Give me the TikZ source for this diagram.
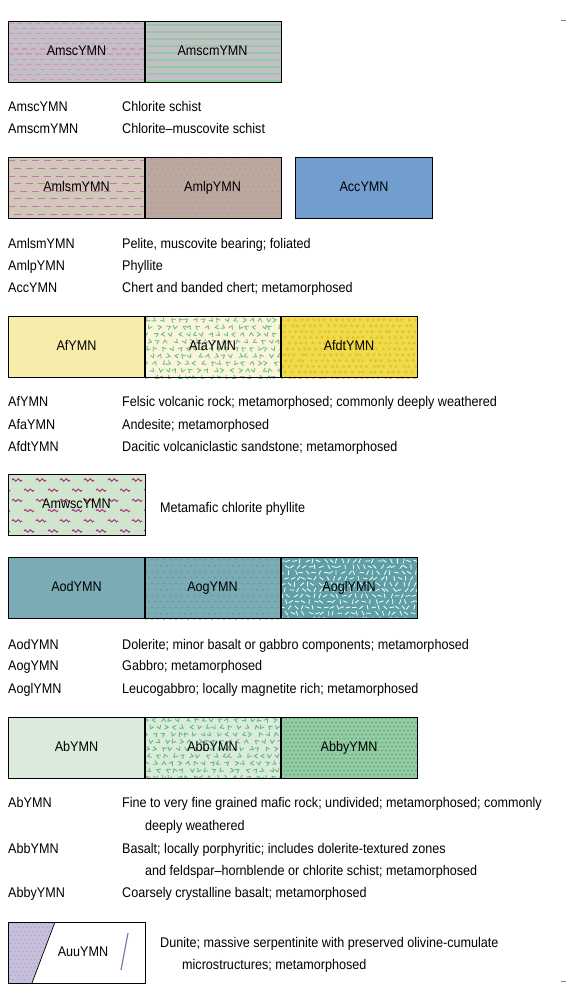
\documentclass[tikz,border=0pt]{standalone}
\usepackage{fontspec}
\setmainfont[FakeStretch=0.9]{Liberation Sans}

\definecolor{schgrey}{HTML}{C2BFC8}
\definecolor{schpink}{HTML}{D596B2}
\definecolor{schgreen}{HTML}{93CBA0}
\definecolor{pelbg}{HTML}{D3C7B9}
\definecolor{pelmag}{HTML}{C874B0}
\definecolor{phybg}{HTML}{BAAA9D}
\definecolor{chert}{HTML}{729ECF}
\definecolor{felsic}{HTML}{F7ECAA}
\definecolor{andbg}{HTML}{FAF4DA}
\definecolor{andgreen}{HTML}{6DC08C}
\definecolor{dacbg}{HTML}{F1DB4D}
\definecolor{dactri}{HTML}{E2C427}
\definecolor{mwsbg}{HTML}{CFE5CD}
\definecolor{mwsmag}{HTML}{A63388}
\definecolor{dolerite}{HTML}{7BABB5}
\definecolor{gabdot}{HTML}{3F8C93}
\definecolor{leuco}{HTML}{5FA0A6}
\definecolor{basalt}{HTML}{DAEBDC}
\definecolor{bagreen}{HTML}{62BA7E}
\definecolor{cryst}{HTML}{93CCA3}
\definecolor{crydot}{HTML}{3F9A68}
\definecolor{dunite}{HTML}{C6BEDA}
\definecolor{dundot}{HTML}{A99CC6}
\definecolor{slashc}{HTML}{8A70B0}

\tikzset{
  unitbox/.style={draw,line width=0.7pt,minimum width=137pt,minimum height=61pt,
    inner sep=0pt,text height=7pt,text depth=0pt},
  code/.style={anchor=base west,inner sep=0pt}
}

% pattern fills, drawn from the top left corner of a box
\newcommand{\fillDash}[7]{% x, y, ground, ink, period, dash, last row
  \begin{scope}[shift={(#1,#2)}]
  \clip (0,0) rectangle (137,61);
  \fill[#3] (0,0) rectangle (137,61);
  \foreach \r in {0,...,#7}
    \foreach \c in {-1,...,16}
      \draw[#4,line width=1.1pt] ({\c*#5+mod(\r,2)*#5/2},{(\r+0.5)*61/(#7+1)}) -- ++(#6,0);
  \end{scope}}
\newcommand{\fillLines}[4]{% x, y, ground, ink
  \begin{scope}[shift={(#1,#2)}]
  \clip (0,0) rectangle (137,61);
  \fill[#3] (0,0) rectangle (137,61);
  \foreach \r in {0,...,8}
    \draw[#4,line width=1.2pt] (0,{4+\r*7}) -- ++(137,0);
  \end{scope}}
\newcommand{\fillDots}[6]{% x, y, ground, ink, spacing, radius
  \begin{scope}[shift={(#1,#2)}]
  \clip (0,0) rectangle (137,61);
  \fill[#3] (0,0) rectangle (137,61);
  \foreach \r in {0,...,16}
    \foreach \c in {0,...,35}
      \fill[#4] ({1+\c*#5+mod(\r,2)*#5/2},{1.5+\r*#5}) circle (#6);
  \end{scope}}
\newcommand{\fillVee}[5]{% x, y, ground, ink, seed
  \begin{scope}[shift={(#1,#2)}]
  \clip (0,0) rectangle (137,61);
  \fill[#3] (0,0) rectangle (137,61);
  \pgfmathsetseed{#5}
  \foreach \r in {0,...,8}
    \foreach \c in {0,...,17}{
      \pgfmathsetmacro\ang{360*rnd}
      \pgfmathsetmacro\dx{2*rand}
      \draw[#4,line width=0.9pt,shift={({2+\c*8+mod(\r,2)*4+\dx},{3+\r*7.2})},rotate=\ang]
        (-2.1,-1.7) -- (0,1.7) -- (2.1,-1.7);
    }
  \end{scope}}
\newcommand{\fillTri}[2]{% x, y
  \begin{scope}[shift={(#1,#2)}]
  \clip (0,0) rectangle (137,61);
  \fill[dacbg] (0,0) rectangle (137,61);
  \pgfmathsetseed{23}
  \foreach \r in {0,...,10}
    \foreach \c in {0,...,23}{
      \pgfmathsetmacro\ang{360*rnd}
      \pgfmathsetmacro\dx{1.5*rand}
      \fill[dactri,shift={({2+\c*6+mod(\r,2)*3+\dx},{3+\r*5.8})},rotate=\ang]
        (0,-2) -- (1.8,1.2) -- (-1.8,1.2) -- cycle;
    }
  \end{scope}}
\newcommand{\fillTick}[2]{% x, y
  \begin{scope}[shift={(#1,#2)}]
  \clip (0,0) rectangle (137,61);
  \fill[leuco] (0,0) rectangle (137,61);
  \pgfmathsetseed{5}
  \foreach \r in {0,...,10}
    \foreach \c in {0,...,23}{
      \pgfmathsetmacro\ang{360*rnd}
      \pgfmathsetmacro\dx{1.5*rand}
      \draw[white,line width=0.8pt,shift={({2+\c*6+mod(\r,2)*3+\dx},{3+\r*5.8})},rotate=\ang]
        (-2.3,0) -- (2.3,0);
    }
  \end{scope}}
\newcommand{\fillWave}[2]{% x, y
  \begin{scope}[shift={(#1,#2)}]
  \clip (0,0) rectangle (137,61);
  \fill[mwsbg] (0,0) rectangle (137,61);
  \foreach \r in {0,...,5}
    \foreach \c in {-1,...,5}
      \draw[mwsmag,line width=1pt,shift={({4+\c*24+mod(\r,2)*12},{5+\r*10.2})}]
        (0,0) sin (1.25,-1.1) cos (2.5,0) sin (3.75,1.1) cos (5,0)
        sin (6.25,-1.1) cos (7.5,0) sin (8.75,1.1) cos (10,0);
  \end{scope}}

\begin{document}
\begin{tikzpicture}[x=1pt,y=-1pt,font=\fontsize{14}{16}\selectfont]
\useasboundingbox (0,0) rectangle (566,993);
\draw[gray] (561,20) -- (566,20);
\draw[gray] (561,981) -- (566,981);

% schists
\fillDash{8}{21}{schgrey}{schpink}{9}{5.5}{11}
\fillLines{145}{21}{schgrey}{schgreen}
\node[unitbox] (amsc) at (76.5,51.5) {AmscYMN};
\node[unitbox] (amscm) at (212.5,51.5) {AmscmYMN};
\node[code] (amscl) at (8,111) {AmscYMN};
\node[code] (amscd) at (122,111) {Chlorite schist};
\node[code] (amscml) at (8,133) {AmscmYMN};
\node[code] (amscmd) at (122,133) {Chlorite–muscovite schist};

% pelites and chert
\fillDash{8}{157}{pelbg}{pelmag}{12}{6.5}{7}
\fillDots{145}{157}{phybg}{pelmag}{5.5}{0.7}
\node[unitbox] (amlsm) at (76.5,187.5) {AmlsmYMN};
\node[unitbox] (amlp) at (212.5,187.5) {AmlpYMN};
\node[unitbox,fill=chert] (acc) at (364,187.5) {AccYMN};
\node[code] (amlsml) at (8,248) {AmlsmYMN};
\node[code] (amlsmd) at (122,248) {Pelite, muscovite bearing; foliated};
\node[code] (amlpl) at (8,270) {AmlpYMN};
\node[code] (amlpd) at (122,270) {Phyllite};
\node[code] (accl) at (8,292) {AccYMN};
\node[code] (accd) at (122,292) {Chert and banded chert; metamorphosed};

% felsic volcanics
\fillVee{145}{317}{andbg}{andgreen}{7}
\fillTri{281}{317}
\node[unitbox,fill=felsic] (af) at (76.5,347) {AfYMN};
\node[unitbox] (afa) at (212.5,347) {AfaYMN};
\node[unitbox] (afdt) at (349,347) {AfdtYMN};
\node[code] (afl) at (8,406) {AfYMN};
\node[code] (afd) at (122,406) {Felsic volcanic rock; metamorphosed; commonly deeply weathered};
\node[code] (afal) at (8,429) {AfaYMN};
\node[code] (afad) at (122,429) {Andesite; metamorphosed};
\node[code] (afdtl) at (8,451) {AfdtYMN};
\node[code] (afdtd) at (122,451) {Dacitic volcaniclastic sandstone; metamorphosed};

% metamafic phyllite
\fillWave{8}{475}
\node[unitbox] (amwsc) at (76.5,505) {AmwscYMN};
\node[code] (amwscd) at (160,512) {Metamafic chlorite phyllite};

% dolerite and gabbro
\fillDots{145}{558}{dolerite}{gabdot}{6}{0.7}
\fillTick{281}{558}
\node[unitbox,fill=dolerite] (aod) at (76.5,588) {AodYMN};
\node[unitbox] (aog) at (212.5,588) {AogYMN};
\node[unitbox] (aogl) at (349,588) {AoglYMN};
\node[code] (aodl) at (8,649) {AodYMN};
\node[code] (aodd) at (122,649) {Dolerite; minor basalt or gabbro components; metamorphosed};
\node[code] (aogtl) at (8,670) {AogYMN};
\node[code] (aogd) at (122,670) {Gabbro; metamorphosed};
\node[code] (aogll) at (8,693) {AoglYMN};
\node[code] (aogld) at (122,693) {Leucogabbro; locally magnetite rich; metamorphosed};

% basalts
\fillVee{145}{717}{basalt}{bagreen}{19}
\fillDots{281}{717}{cryst}{crydot}{4}{0.75}
\node[unitbox,fill=basalt] (ab) at (76.5,747.5) {AbYMN};
\node[unitbox] (abb) at (212.5,747.5) {AbbYMN};
\node[unitbox] (abby) at (349,747.5) {AbbyYMN};
\node[code] (abl) at (8,807) {AbYMN};
\node[code] (abd) at (122,807) {Fine to very fine grained mafic rock; undivided; metamorphosed; commonly};
\node[code] (abd2) at (145,830) {deeply weathered};
\node[code] (abbl) at (8,853) {AbbYMN};
\node[code] (abbd) at (122,853) {Basalt; locally porphyritic; includes dolerite-textured zones};
\node[code] (abbd2) at (145,875) {and feldspar–hornblende or chlorite schist; metamorphosed};
\node[code] (abbyl) at (8,897) {AbbyYMN};
\node[code] (abbyd) at (122,897) {Coarsely crystalline basalt; metamorphosed};

% dunite
\begin{scope}[shift={(8,922)}]
\fill[dunite] (0,0) -- (47,0) -- (24,61) -- (0,61) -- cycle;
\clip (0,0) -- (47,0) -- (24,61) -- (0,61) -- cycle;
\foreach \r in {0,...,15}
  \foreach \c in {0,...,12}
    \fill[dundot] ({1+\c*4+mod(\r,2)*2},{1.5+\r*4}) circle (0.6);
\end{scope}
\draw[line width=0.7pt] (55,922) -- (32,983);
\draw[slashc,line width=1.2pt] (128,933) -- (121,970);
\node[unitbox] (auu) at (76.5,952.5) {};
\node[inner sep=0pt,text height=7pt,text depth=0pt] (auut) at (83,953) {AuuYMN};
\node[code] (auud) at (160,947) {Dunite; massive serpentinite with preserved olivine-cumulate};
\node[code] (auud2) at (182,969) {microstructures; metamorphosed};
\end{tikzpicture}
\end{document}
